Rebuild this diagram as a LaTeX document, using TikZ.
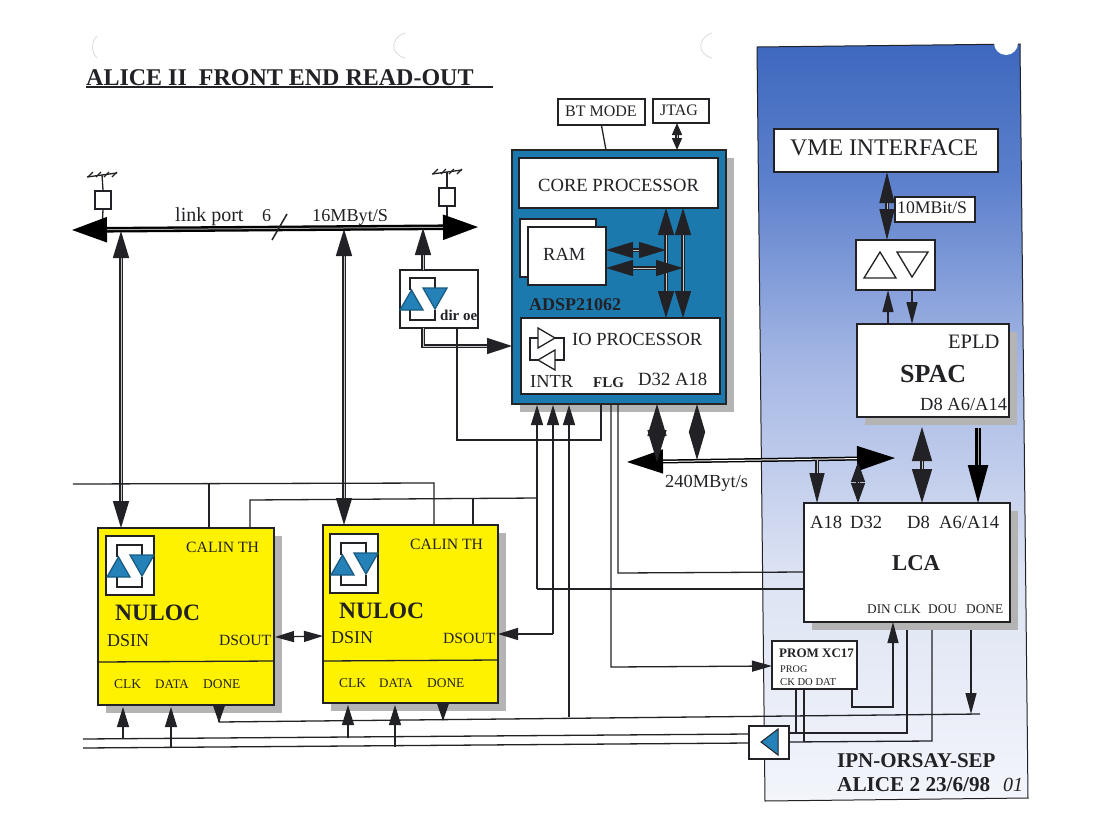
\documentclass[tikz,border=0pt]{standalone}
\usepackage{fontspec}
\setmainfont{Liberation Serif}
\usetikzlibrary{arrows.meta,shadows,calc}
\definecolor{ink}{HTML}{222226}
\definecolor{chipblue}{HTML}{1C79AE}
\definecolor{triblue}{HTML}{2482B8}
\definecolor{nuyellow}{HTML}{FFF200}
\definecolor{shadowgray}{HTML}{B4B4B4}
\definecolor{pbtop}{HTML}{3E68BE}
\definecolor{pba}{HTML}{5C80CC}
\definecolor{pbb}{HTML}{A4B6E4}
\definecolor{pbc}{HTML}{DDE3F3}
\definecolor{pbd}{HTML}{F3F5FB}
\pgfdeclareverticalshading{panelshade}{100bp}{color(0bp)=(pbd);color(25bp)=(pbd);color(40bp)=(pbc);color(54bp)=(pbb);color(66bp)=(pba);color(75bp)=(pbtop);color(100bp)=(pbtop)}
\newcommand\bx[6]{%
  \pgfmathsetmacro\myW{#4-#2}\pgfmathsetmacro\myH{#5-#3}%
  \pgfmathsetmacro\myX{(#2+#4)/2}\pgfmathsetmacro\myY{(#3+#5)/2}%
  \node[#6,minimum width=\myW pt,minimum height=\myH pt] (#1) at (\myX,\myY) {};}
\newcommand\tx[6]{\node[lbl,font=\fontsize{#4}{#4}\selectfont #5] (#1) at (#2,#3) {#6};}
\newcommand\bufsym[3]{%
  \begin{scope}[shift={(#1,#2)}]
    \draw[wire] (10,20)--(10,8)--(35,8)--(35,20);
    \draw[wire] (10,40)--(10,50)--(35,50)--(35,40);
    \draw[wire,fill=triblue,draw=triblue!70!black] (0,40)--(23,40)--(11.5,20)--cycle;
    \draw[wire,fill=triblue,draw=triblue!70!black] (23,18)--(47,18)--(35,39)--cycle;
  \end{scope}}
\newcommand\hatch[2]{%
  \begin{scope}[shift={(#1,#2)}]
    \draw[wire] (-15,2)--(15,-2);
    \foreach \q in {-14,-6,2,10} \draw[wire] (\q,2)--(\q+5,-3);
  \end{scope}}
\tikzset{
  x=1pt,y=-1pt,
  wire/.style={draw=ink,line width=1.3pt},
  dbl/.style={draw=ink,line width=1.4pt,double=gray!45,double distance=.8pt},
  hvy/.style={draw=black,line width=2.3pt,double=gray!70,double distance=1pt},
  plainbox/.style={draw=ink,line width=1.2pt,fill=white,inner sep=0},
  midbox/.style={draw=ink,line width=2.2pt,fill=white,inner sep=0},
  shbox/.style={draw=ink,line width=2.4pt,fill=white,inner sep=0,
     drop shadow={shadow xshift=8pt,shadow yshift=-8pt,fill=shadowgray,opacity=1}},
  chip/.style={shbox,fill=chipblue,draw=black!85,line width=2.8pt},
  nuloc/.style={shbox,fill=nuyellow},
  lbl/.style={anchor=base west,inner sep=0,text=ink},
  headA/.style={-{Triangle[length=27pt,width=16pt]}},
  headB/.style={{Triangle[length=27pt,width=16pt]}-{Triangle[length=27pt,width=16pt]}},
  headS/.style={-{Triangle[length=20pt,width=12pt]}},
  headBig/.style={{Triangle[length=34pt,width=20pt]}-{Triangle[length=34pt,width=20pt]}},
}
\begin{document}
\begin{tikzpicture}
\useasboundingbox (0,0) rectangle (1120,836);
\fill[white] (0,0) rectangle (1120,836);
% faint punch-hole marks of the scan
\draw[black!14,line width=.8pt] (97,36) .. controls (91,42) and (91,52) .. (97,58);
\draw[black!14,line width=.8pt] (405,33) .. controls (390,38) and (390,54) .. (405,58);
\draw[black!14,line width=.8pt] (712,33) .. controls (697,38) and (697,54) .. (712,58);
% blue panel
\path[shading=panelshade,draw=ink,line width=1pt] (757,47)--(1020,44)--(1028,798)--(765,801)--cycle;
\fill[white] (1006,43) circle (12);
% title
\tx{title}{86}{85}{24}{\bfseries}{ALICE II\ \ FRONT END READ-OUT}
\coordinate (ulA) at (86,87); \coordinate (ulB) at (493,87);
\draw[draw=ink,line width=1.6pt] (ulA)--(ulB);
% terminators
\bx{termA}{95}{191}{111}{209}{midbox}
\bx{termB}{439}{188}{455}{206}{midbox}
\hatch{102}{175}
\hatch{447}{172}
\coordinate (gndA) at (102,175); \coordinate (gndB) at (447,172);
\draw[wire] (gndA)--(termA.north); \draw[wire] (gndB)--(termB.north);
\coordinate (busAa) at (102,229); \coordinate (busAb) at (447,227);
\draw[wire] (termA.south)--(busAa); \draw[wire] (termB.south)--(busAb);
% top boxes
\bx{bt}{558}{99}{645}{125}{plainbox}
\bx{jtag}{653}{99}{709}{123}{plainbox}
\tx{btT}{565}{116}{16}{}{BT MODE}
\tx{jtagT}{660}{115}{16}{}{JTAG}
% ADSP
\bx{adsp}{512}{150}{726}{404}{chip}
\bx{core}{519}{158}{718}{208}{plainbox}
\bx{ramB}{520}{219}{596}{277}{plainbox}
\bx{ram}{528}{227}{606}{285}{plainbox}
\bx{io}{521}{318}{720}{394}{plainbox}
\tx{coreT}{538}{191}{18.6}{}{CORE PROCESSOR}
\tx{ramT}{543}{260}{18.5}{}{RAM}
\tx{adspT}{529}{310}{18}{\bfseries\color{black!75!blue}}{ADSP21062}
\tx{ioT}{572}{345}{18.5}{}{IO PROCESSOR}
\tx{intr}{530}{387}{18.4}{}{INTR}
\tx{flg}{593}{387}{15}{\bfseries}{FLG}
\tx{dA}{638}{385}{18.7}{}{D32 A18}
% IO symbol
\draw[wire,fill=white] (538,328)--(555,338)--(538,348)--cycle;
\draw[wire,fill=white] (555,350)--(538,360)--(555,370)--cycle;
\draw[wire] (538,338)--(530,338)--(530,360)--(538,360);
\draw[wire] (555,338)--(564,338)--(564,360)--(555,360);
% dir box
\bx{dir}{400}{270}{478}{328}{midbox}
\bufsym{400}{270}{}
\tx{dirT}{440}{320}{15}{\bfseries}{dir oe}
% NULOC 1
\bx{nuA}{98}{528}{274}{705}{nuloc}
\bx{symA}{106}{536}{154}{595}{plainbox}
\bufsym{107}{537}{}
\coordinate (divAa) at (98,662); \coordinate (divAb) at (274,661);
\draw[wire] (divAa)--(divAb);
\tx{nuAT}{115}{620}{23.5}{\bfseries}{NULOC}
\tx{dsinA}{107}{646}{18}{}{DSIN}
\tx{dsoutA}{219}{645}{15.6}{}{DSOUT}
\tx{calA}{186}{552}{15.7}{}{CALIN TH}
\tx{clkA}{114}{688}{13.5}{}{CLK}
\tx{dataA}{155}{688}{13}{}{DATA}
\tx{doneA}{203}{688}{13.4}{}{DONE}
% NULOC 2
\bx{nuB}{323}{525}{498}{703}{nuloc}
\bx{symB}{330}{534}{378}{593}{plainbox}
\bufsym{331}{535}{}
\coordinate (divBa) at (323,661); \coordinate (divBb) at (498,660);
\draw[wire] (divBa)--(divBb);
\tx{nuBT}{339}{618}{23.5}{\bfseries}{NULOC}
\tx{dsinB}{331}{643}{18}{}{DSIN}
\tx{dsoutB}{443}{643}{15.6}{}{DSOUT}
\tx{calB}{410}{549}{15.7}{}{CALIN TH}
\tx{clkB}{339}{687}{13.5}{}{CLK}
\tx{dataB}{379}{687}{13}{}{DATA}
\tx{doneB}{427}{687}{13.4}{}{DONE}
% right panel boxes
\bx{vme}{774}{129}{998}{172}{plainbox}
\tx{vmeT}{790}{155}{23.8}{}{VME INTERFACE}
\bx{rate}{895}{197}{975}{222}{plainbox}
\tx{rateT}{897}{213}{17.7}{}{10MBit/S}
\bx{tri}{856}{240}{935}{290}{midbox}
\draw[wire,fill=white] (864,278)--(896,278)--(880,252)--cycle;
\draw[wire,fill=white] (897,252)--(928,252)--(912,277)--cycle;
\bx{spac}{857}{324}{1009}{417}{shbox}
\tx{epld}{948}{348}{20.5}{}{EPLD}
\tx{spacT}{900}{382}{26}{\bfseries}{SPAC}
\tx{spacP}{920}{410}{18.5}{}{D8 A6/A14}
\bx{lca}{804}{503}{1010}{622}{shbox}
\tx{lcaA}{810}{528}{18.6}{}{A18}
\tx{lcaD}{850}{528}{18.6}{}{D32}
\tx{lcaE}{907}{528}{18.6}{}{D8}
\tx{lcaF}{939}{528}{18.6}{}{A6/A14}
\tx{lcaT}{892}{570}{22.7}{\bfseries}{LCA}
\tx{lcaG}{867}{613}{13.3}{}{DIN CLK}
\tx{lcaH}{928}{613}{13.3}{}{DOU}
\tx{lcaI}{966}{613}{13.3}{}{DONE}
\bx{prom}{772}{641}{857}{689}{midbox}
\tx{promT}{779}{657}{13}{\bfseries}{PROM XC17}
\tx{promP}{780}{672}{10.2}{\color{black!70}}{PROG}
\tx{promC}{780}{685}{10.6}{\color{black!70}}{CK DO DAT}
\bx{drv}{749}{726}{789}{759}{midbox}
\draw[draw=ink,line width=1pt,fill=triblue] (778,729)--(778,755)--(761,742)--cycle;
\tx{ipn}{837}{767}{21}{\bfseries}{IPN-ORSAY-SEP}
\tx{alice}{837}{791}{21.2}{\bfseries}{ALICE 2 23/6/98}
\tx{hand}{1003}{791}{20}{\itshape\color{black!45}}{01}
% texts on buses
\tx{lp}{175}{221}{20}{}{link port}
\tx{six}{262}{221}{18}{}{6}
\tx{mb}{312}{221}{18.2}{}{16MByt/S}
\tx{gb}{665}{487}{18.4}{}{240MByt/s}
% named ports
\coordinate (busL) at (72,230); \coordinate (busR) at (478,227);
\coordinate (slA) at (272,240); \coordinate (slB) at (287,214);
\coordinate (pA) at (121,231); \coordinate (pAn) at (121,528);
\coordinate (pB) at (344,229); \coordinate (pBn) at (344,525);
\coordinate (pC) at (423,228); \coordinate (pCd) at (423,270);
\coordinate (dirO) at (423,328); \coordinate (dirI) at (512,346);
\coordinate (dirE) at (457,328); \coordinate (flgO) at (601,404);
\coordinate (btB) at (606,150); \coordinate (jtB) at (677,150);
\coordinate (jtT) at (677,123);
% link bus
\draw[hvy,{Triangle[length=35pt,width=25pt]}-{Triangle[length=35pt,width=25pt]}] (busL)--(busR);
\draw[wire,line width=1.5pt] (slA)--(slB);
\draw[dbl,headB] (pA)--(pAn);
\draw[dbl,headB] (pB)--(pBn);
\draw[dbl,headA] (pCd)--(pC);
\draw[dbl,-{Triangle[length=25pt,width=16pt]}] (dirO)|-(dirI);
\draw[wire] (dirE)|-(flgO-|dirE)--(457,440)-|(flgO);
% BT, JTAG
\draw[wire] (bt.south)--(btB);
\draw[dbl,{Triangle[length=12pt,width=10pt]}-{Triangle[length=12pt,width=10pt]}] (jtT)--(jtB);
% ADSP internal
\coordinate (vA) at (666,208); \coordinate (vAb) at (666,318);
\coordinate (vB) at (683,208); \coordinate (vBb) at (683,318);
\coordinate (hA) at (606,250); \coordinate (hAe) at (666,250);
\coordinate (hB) at (606,268); \coordinate (hBe) at (683,268);
\draw[dbl,headB] (vA)--(vAb);
\draw[dbl,headB] (vB)--(vBb);
\draw[dbl,headB] (hA)--(hAe);
\draw[dbl,headB] (hB)--(hBe);
% 240 bus
\coordinate (gL) at (627,462); \coordinate (gR) at (895,458);
\draw[draw=black,line width=1.5pt,double=white,double distance=1pt,{Triangle[length=36pt,width=24pt]}-{Triangle[length=38pt,width=25pt]}] (gL)--(gR);
\coordinate (gA) at (657,404); \coordinate (gAb) at (657,462);
\coordinate (gB) at (697,404); \coordinate (gBb) at (697,460);
\draw[dbl,{Triangle[length=32pt,width=19pt]}-{Triangle[length=32pt,width=19pt]}] (gA)--(gAb);
\draw[dbl,{Triangle[length=28pt,width=16pt]}-{Triangle[length=28pt,width=16pt]}] (gB)--(gBb);
\coordinate (lA) at (817,460); \coordinate (lAb) at (817,503);
\coordinate (lB) at (858,462); \coordinate (lBb) at (858,503);
\draw[dbl,-{Triangle[length=30pt,width=15pt]}] (lA)--(lAb);
\draw[dbl,{Triangle[length=20pt,width=14pt]}-{Triangle[length=20pt,width=14pt]}] (lB)--(lBb);
% SPAC to LCA
\coordinate (sA) at (922,427); \coordinate (sAb) at (922,503);
\coordinate (sB) at (978,428); \coordinate (sBb) at (978,503);
\draw[dbl,headBig] (sA)--(sAb);
\draw[hvy,-{Triangle[length=38pt,width=20pt]}] (sB)--(sBb);
% VME stack
\coordinate (mA) at (887,172); \coordinate (mAb) at (887,240);
\draw[dbl,{Triangle[length=31pt,width=15pt]}-{Triangle[length=31pt,width=15pt]}] (mA)--(mAb);
\coordinate (tA) at (888,324); \coordinate (tAb) at (888,290);
\coordinate (tB) at (912,290); \coordinate (tBb) at (912,324);
\draw[wire,-{Triangle[length=22pt,width=11pt]}] (tA)--(tAb);
\draw[wire,-{Triangle[length=22pt,width=11pt]}] (tB)--(tBb);
% NULOC top wiring
\coordinate (cL) at (73,484); \coordinate (cJ) at (209,484); \coordinate (cR) at (434,483);
\coordinate (cJb) at (209,528); \coordinate (cRb) at (434,525);
\draw[wire] (cL)--(cR)--(cRb);
\draw[wire] (cJ)--(cJb);
\coordinate (dA) at (250,528); \coordinate (dB) at (250,500); \coordinate (dJ) at (473,498);
\coordinate (dJb) at (473,525); \coordinate (dT) at (537,405); \coordinate (dM) at (537,498);
\draw[wire] (dA)--(dB)--(dM);
\draw[wire] (dJ)--(dJb);
% under ADSP
\coordinate (uBt) at (553,405); \coordinate (uCt) at (569,405);
\coordinate (uD) at (553,634); \coordinate (dsoB) at (498,634);
\coordinate (uAb) at (537,589); \coordinate (lcaL) at (804,589);
\coordinate (uCb) at (569,717);
\draw[wire,headS] (uAb)--(dT);
\draw[wire] (uAb)--(lcaL);
\draw[wire,headS] (uD)--(uBt);
\draw[wire,-{Triangle[length=20pt,width=12pt]}] (uD)--(dsoB);
\draw[wire,headS] (uCb)--(uCt);
\coordinate (fA) at (618,404); \coordinate (fAb) at (618,573); \coordinate (lcaM) at (804,572);
\draw[wire] (fA)--(fAb)--(lcaM);
\coordinate (fB) at (611,404); \coordinate (fBb) at (611,667); \coordinate (promL) at (772,666);
\draw[wire,-{Triangle[length=20pt,width=11pt]}] (fB)--(fBb)--(promL);
% NULOC serial
\coordinate (soA) at (275,637); \coordinate (siB) at (323,636);
\draw[wire,{Triangle[length=19pt,width=11pt]}-{Triangle[length=19pt,width=11pt]}] (soA)--(siB);
% bottom lines
\coordinate (aL) at (83,739); \coordinate (bL) at (83,748);
\coordinate (aR) at (749,734); \coordinate (bR) at (749,743);
\coordinate (drvA) at (789,733); \coordinate (drvB) at (789,742);
\draw[wire] (aL)--(aR);
\draw[wire] (bL)--(bR);
\coordinate (oA) at (219,705); \coordinate (oB) at (219,722); \coordinate (oE) at (980,714);
\draw[wire] (oB)--(oE);
\draw[wire,{Triangle[length=18pt,width=12pt,reversed]}-] (oA)--(oB);
\coordinate (oC) at (443,703); \coordinate (oD) at (443,720);
\draw[wire,{Triangle[length=18pt,width=12pt,reversed]}-] (oC)--(oD);
\coordinate (k1) at (123,739); \coordinate (k1t) at (123,707);
\coordinate (k2) at (171,748); \coordinate (k2t) at (171,707);
\coordinate (k3) at (348,738); \coordinate (k3t) at (348,705);
\coordinate (k4) at (395,747); \coordinate (k4t) at (395,705);
\foreach \a/\b in {k1/k1t,k2/k2t,k3/k3t,k4/k4t} \draw[wire,headS] (\a)--(\b);
% LCA bottom
\coordinate (cA) at (907,630); \coordinate (cAb) at (907,733);
\coordinate (cB) at (932,630); \coordinate (cBb) at (932,741);
\draw[wire] (cA)--(cAb)--(drvA);
\draw[wire] (cB)--(cBb)--(drvB);
\coordinate (pK) at (796,689); \coordinate (pKb) at (796,733);
\coordinate (pD) at (804,689); \coordinate (pDb) at (804,742);
\draw[wire] (pK)--(pKb);
\draw[wire] (pD)--(pDb);
\coordinate (pO) at (852,689); \coordinate (pOb) at (852,707); \coordinate (pOc) at (893,707); \coordinate (din) at (893,622);
\draw[wire,-{Triangle[length=21pt,width=11pt]}] (pO)--(pOb)--(pOc)--(din);
\coordinate (dn) at (971,630); \coordinate (dnb) at (971,714);
\draw[wire,-{Triangle[length=21pt,width=11pt]}] (dn)--(dnb);
\end{tikzpicture}
\end{document}
